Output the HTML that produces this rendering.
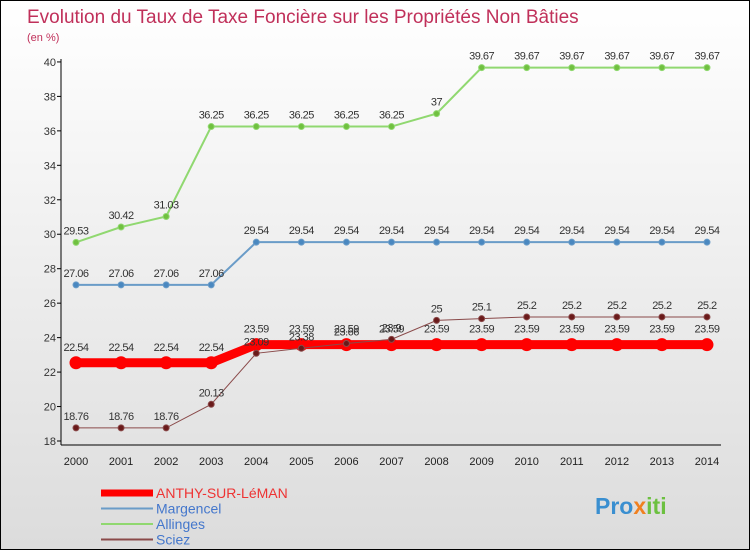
<!DOCTYPE html>
<html><head><meta charset="utf-8"><style>
body{margin:0}
#c{width:748px;height:548px;border:1px solid #000;background:linear-gradient(#fff,#dcdcdc);position:relative;font-family:"Liberation Sans",sans-serif;overflow:hidden}
</style></head><body>
<div id="c">
<svg id="s" width="748" height="548">
<text x="26" y="22" font-size="19" fill="#c0305a">Evolution du Taux de Taxe Foncière sur les Propriétés Non Bâties</text>
<text x="26" y="40" font-size="11" fill="#c0305a">(en %)</text>
<g id="g"></g>
<text x="594" y="513" font-size="23" font-weight="bold" fill="#3a8fd0">Pro<tspan fill="#f08020">x</tspan><tspan fill="#6cc040">iti</tspan></text>
</svg></div>
<script>
const years=[2000,2001,2002,2003,2004,2005,2006,2007,2008,2009,2010,2011,2012,2013,2014];
const yTicks=[18,20,22,24,26,28,30,32,34,36,38,40];
const anthy=[22.54,22.54,22.54,22.54,23.59,23.59,23.59,23.59,23.59,23.59,23.59,23.59,23.59,23.59,23.59];
const margencel=[27.06,27.06,27.06,27.06,29.54,29.54,29.54,29.54,29.54,29.54,29.54,29.54,29.54,29.54,29.54];
const allinges=[29.53,30.42,31.03,36.25,36.25,36.25,36.25,36.25,37,39.67,39.67,39.67,39.67,39.67,39.67];
const sciez=[18.76,18.76,18.76,20.13,23.09,23.38,23.66,23.9,25,25.1,25.2,25.2,25.2,25.2,25.2];
const X=i=>75+i*45.07, Y=v=>440-(v-18)*17.23;
const g=document.getElementById('g'),NS='http://www.w3.org/2000/svg';
function el(t,a){const e=document.createElementNS(NS,t);for(const k in a)e.setAttribute(k,a[k]);g.appendChild(e);return e;}
let ax=el('line',{x1:60,y1:58,x2:60,y2:444,stroke:'#000'});


let bx=el('line',{x1:60,y1:444,x2:720,y2:444,stroke:'#000'});


yTicks.forEach(v=>{const t=el('text',{x:55,y:Y(v)+4,'font-size':11,fill:'#333','text-anchor':'end'});t.textContent=v;


el('line',{x1:56,y1:Y(v),x2:60,y2:Y(v),stroke:'#000'});});
years.forEach((y,i)=>{const t=el('text',{x:X(i),y:464,'font-size':11,fill:'#222','text-anchor':'middle'});t.textContent=y;

});
function series(d,col,w,r,dot,name,lblOff){
 const p=el('polyline',{points:d.map((v,i)=>X(i)+','+Y(v)).join(' '),fill:'none',stroke:col,'stroke-width':w});
 
 
 d.forEach((v,i)=>{const c=el('circle',{cx:X(i),cy:Y(v),r:r,fill:dot,stroke:col,'stroke-width':1});
 
 
 const t=el('text',{x:X(i),y:Y(v)-lblOff,'font-size':11,fill:'#333','text-anchor':'middle','letter-spacing':'-0.5'});t.textContent=v;
 
 });
}
series(allinges,'#90d870',2,3,'#70c040','allinges',8);
series(margencel,'#6a9cc8',2,3,'#4a88c0','margencel',8);
series(anthy,'#ff0000',9,6,'#ff0000','anthy',12);
series(sciez,'#8a4a4a',1,3,'#6a1a1a','sciez',8);
const leg=[['ANTHY-SUR-LéMAN','#ff0000',7,'#ee3333'],['Margencel','#6a9cc8',2,'#4477cc'],['Allinges','#90d870',2,'#4477cc'],['Sciez','#8a4a4a',2,'#4477cc']];
leg.forEach((l,i)=>{const y=492+i*15.5;
 const ln=el('line',{x1:100,y1:y,x2:152,y2:y,stroke:l[1],'stroke-width':l[2]});
 
 
 const t=el('text',{x:155,y:y+5,'font-size':14,fill:l[3]});t.textContent=l[0];
 
 });
</script>
</body></html>
